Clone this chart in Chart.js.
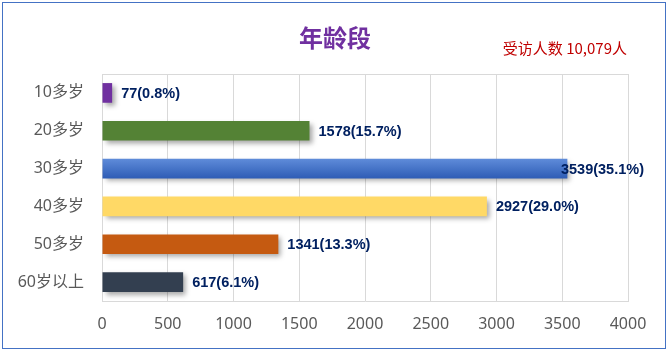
<!DOCTYPE html>
<html>
<head>
<meta charset="utf-8">
<script src="https://cdn.jsdelivr.net/npm/chart.js@4/dist/chart.umd.min.js"></script>
<style>
    html, body { margin: 0; padding: 0; background: #fff; }
    #wrap { width: 668px; height: 351px; }
</style>
</head>
<body>
<div id="wrap"><canvas id="chart-edad" width="668" height="351"></canvas></div>
<script>
// Datos
const categorias = ["10多岁", "20多岁", "30多岁", "40多岁", "50多岁", "60岁以上"];
const valores = [77, 1578, 3539, 2927, 1341, 617];
const porcentajes = ["0.8%", "15.7%", "35.1%", "29.0%", "13.3%", "6.1%"];
const colores = ["#7030A0", "#548235", "#4472C4", "#FFD966", "#C55A11", "#333F50"];
const ticksX = [0, 500, 1000, 1500, 2000, 2500, 3000, 3500, 4000];
const titulo = "年龄段";
const nota = "受访人数 10,079人";

document.addEventListener("DOMContentLoaded", () => {
    // Fondo, marco, título y notas
    const marco = {
        id: "marco",
        beforeDraw(chart) {
            const ctx = chart.ctx;
            ctx.save();
            ctx.fillStyle = "#ffffff";
            ctx.fillRect(0, 0, chart.width, chart.height);
            ctx.strokeStyle = "#4472C4";
            ctx.lineWidth = 1;
            ctx.strokeRect(2.5, 2.5, chart.width - 5, chart.height - 5);
            ctx.restore();
        },
        afterDraw(chart) {
            const ctx = chart.ctx;
            const area = chart.chartArea;
            ctx.save();
            // borde superior del área de trazado
            ctx.strokeStyle = "#D9D9D9";
            ctx.lineWidth = 1;
            ctx.beginPath();
            ctx.moveTo(area.left, Math.round(area.top) + 0.5);
            ctx.lineTo(area.right, Math.round(area.top) + 0.5);
            ctx.stroke();
            // título
            ctx.fillStyle = "#7030A0";
            ctx.font = "bold 24px 'Noto Sans CJK SC', sans-serif";
            ctx.textAlign = "center";
            ctx.textBaseline = "middle";
            ctx.fillText(titulo, 335, 38);
            // nota en rojo
            ctx.fillStyle = "#C00000";
            ctx.font = "15px 'Noto Sans CJK SC', sans-serif";
            ctx.textAlign = "right";
            ctx.fillText(nota, 627, 48);
            // etiquetas de datos
            const meta = chart.getDatasetMeta(0);
            ctx.font = "bold 14.5px 'Liberation Sans', Arial, sans-serif";
            ctx.fillStyle = "#002060";
            ctx.textAlign = "left";
            meta.data.forEach((barra, i) => {
                const texto = valores[i] + "(" + porcentajes[i] + ")";
                const ancho = ctx.measureText(texto).width;
                let x = barra.x + 9;
                if (x + ancho > 644) x = 644 - ancho;
                ctx.fillText(texto, x, barra.y + 1);
            });
            ctx.restore();
        }
    };

    // Sombra de las barras
    const sombra = {
        id: "sombra",
        beforeDatasetDraw(chart) {
            const ctx = chart.ctx;
            ctx.save();
            ctx.shadowColor = "rgba(0,0,0,0.35)";
            ctx.shadowBlur = 5;
            ctx.shadowOffsetX = 3;
            ctx.shadowOffsetY = 3;
        },
        afterDatasetDraw(chart) {
            chart.ctx.restore();
        }
    };

    const ctxEdad = document.getElementById("chart-edad").getContext("2d");
    new Chart(ctxEdad, {
        type: "bar",
        data: {
            labels: categorias,
            datasets: [{
                data: valores,
                backgroundColor: (c) => {
                    const chart = c.chart;
                    if (c.dataIndex === 2 && chart.chartArea && chart.scales.y) {
                        const y = chart.scales.y.getPixelForValue(2);
                        const g = chart.ctx.createLinearGradient(0, y - 10, 0, y + 10);
                        g.addColorStop(0, "#5F8CDA");
                        g.addColorStop(1, "#2E5CB5");
                        return g;
                    }
                    return colores[c.dataIndex];
                },
                borderWidth: 0,
                barPercentage: 0.52,
                categoryPercentage: 1
            }]
        },
        options: {
            indexAxis: "y",
            responsive: false,
            animation: false,
            layout: {
                padding: { left: 2, right: 40, top: 74, bottom: 8 }
            },
            plugins: {
                legend: { display: false },
                tooltip: { enabled: false },
                title: { display: false }
            },
            scales: {
                x: {
                    min: 0,
                    max: 4000,
                    afterBuildTicks: (s) => { s.ticks = ticksX.map((v) => ({ value: v })); },
                    afterFit: (s) => { s.height = 42; },
                    grid: { color: "#D9D9D9", drawTicks: false },
                    border: { color: "#D9D9D9" },
                    ticks: {
                        color: "#595959",
                        padding: 14,
                        callback: (v) => String(v),
                        font: { family: "'Noto Sans', sans-serif", size: 16 }
                    }
                },
                y: {
                    afterFit: (s) => { s.width = 100; },
                    grid: { display: false, drawTicks: false },
                    border: { color: "#D9D9D9" },
                    ticks: {
                        color: "#595959",
                        padding: 18,
                        font: { family: "'Noto Sans', 'Noto Sans CJK SC', sans-serif", size: 16 }
                    }
                }
            }
        },
        plugins: [marco, sombra]
    });
});
</script>
</body>
</html>
